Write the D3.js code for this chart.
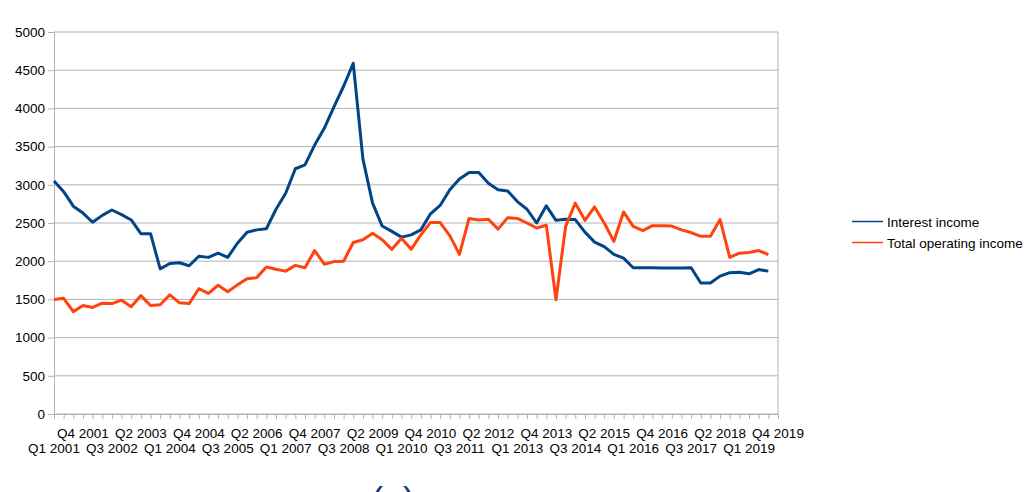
<!DOCTYPE html>
<html>
<head>
<meta charset="utf-8">
<script src="https://cdn.jsdelivr.net/npm/d3@7"></script>
<style>
  html, body { margin: 0; padding: 0; background: #fff; }
  svg { display: block; font-family: "Liberation Sans", Arial, sans-serif; }
</style>
</head>
<body>
<svg id="chart" width="1033" height="492"></svg>
<script>
// ---- data ----
const years = d3.range(2001, 2020);
const quarters = years.flatMap(y => ["Q1", "Q2", "Q3", "Q4"].map(q => q + " " + y));

const interestIncome = [
  3050, 2910, 2720, 2630, 2510, 2600, 2670, 2610, 2540, 2360,
  2360, 1900, 1970, 1980, 1940, 2065, 2050, 2105, 2050, 2235,
  2380, 2410, 2425, 2680, 2890, 3210, 3260, 3520, 3740, 4020,
  4290, 4590, 3340, 2760, 2460, 2390, 2315, 2345, 2410, 2620,
  2730, 2935, 3075, 3160, 3160, 3020, 2935, 2920, 2780, 2680,
  2500, 2725, 2535, 2550, 2545, 2380, 2250, 2190, 2090, 2040,
  1915, 1915, 1915, 1910, 1910, 1910, 1915, 1715, 1715, 1805,
  1850, 1855, 1835, 1890, 1870, null
];

const totalOperatingIncome = [
  1500, 1515, 1340, 1420, 1395, 1450, 1445, 1490, 1405, 1550,
  1420, 1430, 1560, 1455, 1445, 1640, 1580, 1685, 1600, 1690,
  1770, 1785, 1925, 1895, 1870, 1945, 1915, 2140, 1960, 1995,
  2000, 2245, 2280, 2365, 2280, 2155, 2300, 2155, 2345, 2505,
  2505, 2335, 2090, 2560, 2540, 2550, 2420, 2570, 2560, 2500,
  2435, 2470, 1495, 2455, 2760, 2535, 2710, 2500, 2260, 2645,
  2455, 2400, 2465, 2465, 2460, 2410, 2375, 2325, 2325, 2545,
  2050, 2105, 2115, 2140, 2085, null
];

const yTicks = [0, 500, 1000, 1500, 2000, 2500, 3000, 3500, 4000, 4500, 5000];
const seriesNames = ["Interest income", "Total operating income"];
const seriesColors = ["#004586", "#ff420e"];

// ---- layout ----
const svg = d3.select("#chart");
const mLeft = 54, mRight = 778, mTop = 32, mBottom = 414;
const fs = "13.5px";

const x = d3.scalePoint().domain(quarters).range([mLeft, mRight]);
const y = d3.scaleLinear().domain([0, 5000]).range([mBottom, mTop]);

// gridlines
svg.append("g")
  .selectAll("line")
  .data(yTicks)
  .join("line")
  .attr("x1", mLeft).attr("x2", mRight)
  .attr("y1", d => y(d)).attr("y2", d => y(d))
  .attr("stroke", "#b3b3b3").attr("stroke-width", 1);

// right wall
svg.append("line")
  .attr("x1", mRight).attr("x2", mRight).attr("y1", mTop).attr("y2", mBottom)
  .attr("stroke", "#b3b3b3").attr("stroke-width", 1);

// y axis
const yAxis = svg.append("g")
  .attr("transform", `translate(${mLeft},0)`)
  .call(d3.axisLeft(y).tickValues(yTicks).tickSize(6).tickPadding(3).tickFormat(d3.format("d")));
yAxis.select(".domain").attr("stroke", "#b3b3b3");
yAxis.selectAll(".tick line").attr("stroke", "#b3b3b3");
yAxis.selectAll("text").attr("fill", "#000").style("font-size", fs)
  .style("font-family", "'Liberation Sans', Arial, sans-serif");

// x axis
const xAxis = svg.append("g")
  .attr("transform", `translate(0,${mBottom})`)
  .call(d3.axisBottom(x).tickSize(5).tickFormat(""));
xAxis.select(".domain").attr("stroke", "#b3b3b3").attr("d", `M${mLeft},0.5H${mRight}`);
xAxis.selectAll(".tick line").attr("stroke", "#b3b3b3");

// x labels every 3 quarters, staggered in two rows
const labelIdx = d3.range(0, quarters.length, 3);
svg.append("g")
  .selectAll("text")
  .data(labelIdx)
  .join("text")
  .attr("x", i => x(quarters[i]))
  .attr("y", (i, k) => (k % 2 === 1 ? 438 : 453))
  .attr("text-anchor", "middle")
  .style("font-size", fs)
  .attr("fill", "#000")
  .text(i => quarters[i]);

// lines
const line = d3.line()
  .defined(d => d.v != null)
  .x(d => x(d.q))
  .y(d => y(d.v));

[interestIncome, totalOperatingIncome].forEach((vals, s) => {
  svg.append("path")
    .datum(vals.map((v, i) => ({ q: quarters[i], v })))
    .attr("fill", "none")
    .attr("stroke", seriesColors[s])
    .attr("stroke-width", 3)
    .attr("stroke-linejoin", "round")
    .attr("d", line);
});

// legend
const legend = svg.append("g");
seriesNames.forEach((name, s) => {
  const ly = 221.5 + s * 21;
  legend.append("line")
    .attr("x1", 852).attr("x2", 883).attr("y1", ly).attr("y2", ly)
    .attr("stroke", seriesColors[s]).attr("stroke-width", 1.5);
  legend.append("text")
    .attr("x", 887).attr("y", ly + 5)
    .style("font-size", fs)
    .attr("fill", "#000")
    .text(name);
});

// caption, cut off by the bottom edge as in the reference
svg.append("text")
  .attr("x", 393).attr("y", 513)
  .attr("text-anchor", "middle")
  .style("font-size", "36px")
  .attr("fill", "#1f3a78")
  .text("(a)");
</script>
</body>
</html>
